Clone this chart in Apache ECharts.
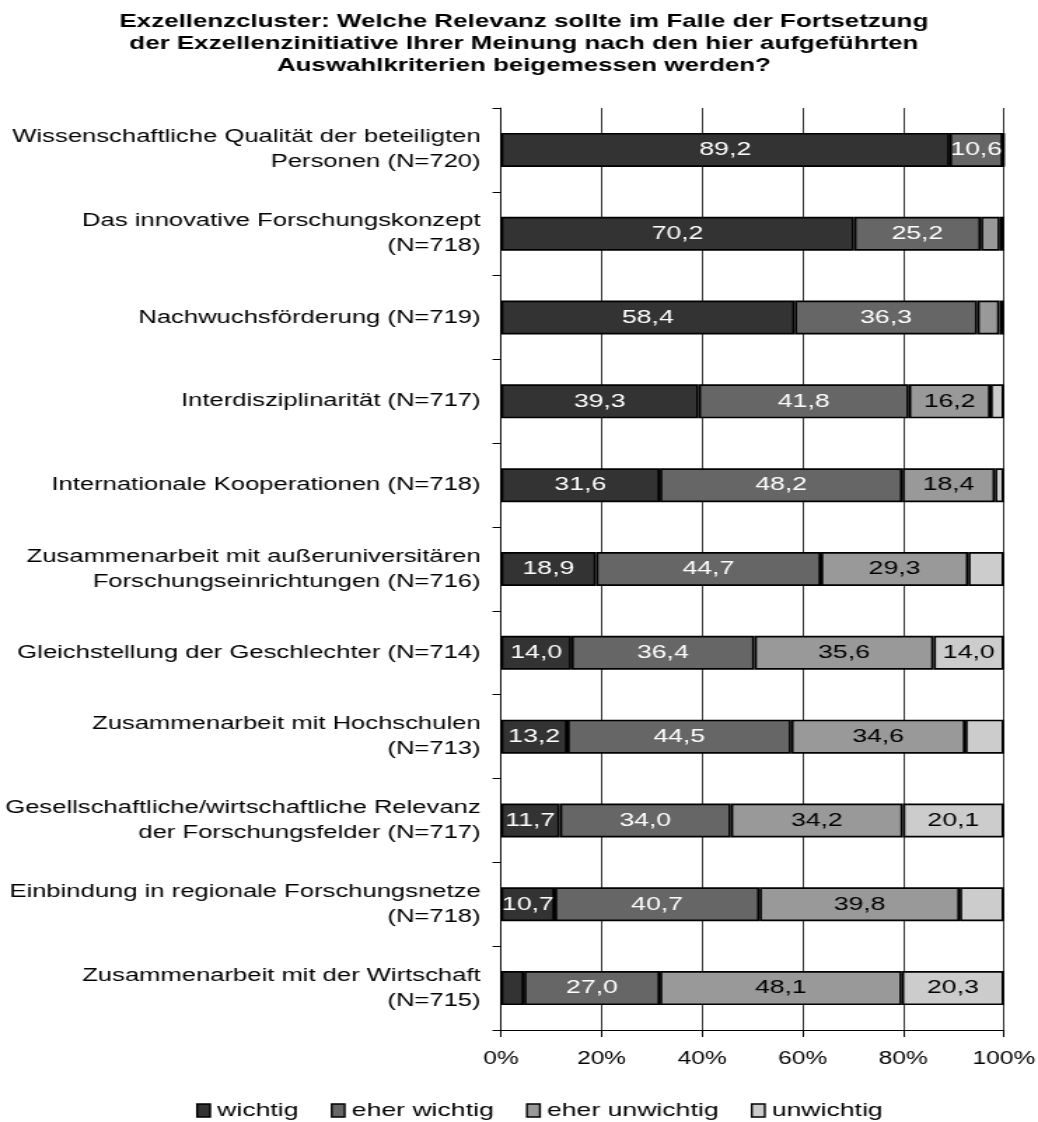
<!DOCTYPE html>
<html>
<head>
    <meta charset='utf-8'>
    <script src="https://cdn.jsdelivr.net/npm/echarts@6/dist/echarts.min.js"></script>
</head>
<body>
<style>
    html, body {
        width: 100%;
        height: 100%;
        margin: 0;
        padding: 0;
        background: #fff;
        overflow: hidden;
    }
    /* the source picture is stretched sideways, so draw narrow and widen */
    #main {
        width: 741px;
        height: 1122px;
        transform: scaleX(1.4008);
        transform-origin: 0 0;
    }
</style>
<div id="main"></div>
<script>
    var categories = [
        'Wissenschaftliche Qualität der beteiligten\nPersonen (N=720)',
        'Das innovative Forschungskonzept\n(N=718)',
        'Nachwuchsförderung (N=719)',
        'Interdisziplinarität (N=717)',
        'Internationale Kooperationen (N=718)',
        'Zusammenarbeit mit außeruniversitären\nForschungseinrichtungen (N=716)',
        'Gleichstellung der Geschlechter (N=714)',
        'Zusammenarbeit mit Hochschulen\n(N=713)',
        'Gesellschaftliche/wirtschaftliche Relevanz\nder Forschungsfelder (N=717)',
        'Einbindung in regionale Forschungsnetze\n(N=718)',
        'Zusammenarbeit mit der Wirtschaft\n(N=715)'
    ];

    var wichtig = [89.2, 70.2, 58.4, 39.3, 31.6, 18.9, 14.0, 13.2, 11.7, 10.7, 4.6];
    var eherWichtig = [10.6, 25.2, 36.3, 41.8, 48.2, 44.7, 36.4, 44.5, 34.0, 40.7, 27.0];
    var eherUnwichtig = [0.1, 3.8, 4.4, 16.2, 18.4, 29.3, 35.6, 34.6, 34.2, 39.8, 48.1];
    var unwichtig = [0.1, 0.8, 0.9, 2.7, 1.8, 7.1, 14.0, 7.7, 20.1, 8.8, 20.3];

    var seriesNames = ['wichtig', 'eher wichtig', 'eher unwichtig', 'unwichtig'];
    var seriesData = [wichtig, eherWichtig, eherUnwichtig, unwichtig];
    var fills = ['#333333', '#666666', '#999999', '#cccccc'];
    var textColors = ['#ffffff', '#ffffff', '#000000', '#000000'];
    var font = "'Liberation Sans', Arial, sans-serif";

    var chart = echarts.init(document.getElementById('main'));

    var series = [];
    for (var i = 0; i < seriesNames.length; i++) {
        series.push({
            name: seriesNames[i],
            type: 'bar',
            stack: 'total',
            barWidth: 34,
            data: seriesData[i],
            itemStyle: {
                color: fills[i],
                borderColor: '#000',
                borderWidth: 1.7
            },
            label: {
                show: true,
                position: 'inside',
                color: textColors[i],
                fontFamily: font,
                fontSize: 19,
                formatter: function (p) {
                    return p.value >= 10 ? p.value.toFixed(1).replace('.', ',') : '';
                }
            }
        });
    }

    chart.setOption({
        backgroundColor: '#fff',
        animation: false,
        title: {
            text: 'Exzellenzcluster: Welche Relevanz sollte im Falle der Fortsetzung\nder Exzellenzinitiative Ihrer Meinung nach den hier aufgeführten\nAuswahlkriterien beigemessen werden?',
            left: 369,
            textAlign: 'center',
            top: 6,
            textStyle: {
                fontFamily: font,
                fontSize: 18.5,
                fontWeight: 'bold',
                lineHeight: 22,
                color: '#000'
            }
        },
        legend: {
            top: 1096,
            left: 135,
            itemWidth: 9.3,
            itemHeight: 13,
            itemGap: 23,
            icon: 'rect',
            itemStyle: {
                borderColor: '#000',
                borderWidth: 1.4
            },
            textStyle: {
                fontFamily: font,
                fontSize: 19,
                color: '#000'
            },
            data: seriesNames
        },
        grid: {
            left: 357.6,
            right: 24.3,
            top: 108,
            bottom: 92,
            outerBoundsMode: 'none',
            containLabel: false
        },
        xAxis: {
            type: 'value',
            min: 0,
            max: 100,
            interval: 20,
            axisLine: { show: true, lineStyle: { color: '#000', width: 1 } },
            axisTick: { show: true, length: 7, lineStyle: { color: '#000' } },
            splitLine: { show: true, lineStyle: { color: '#000', width: 0.8 } },
            axisLabel: {
                formatter: '{value}%',
                fontFamily: font,
                fontSize: 17.5,
                color: '#000',
                margin: 20
            }
        },
        yAxis: {
            type: 'category',
            inverse: true,
            data: categories,
            axisLine: { show: true, lineStyle: { color: '#000', width: 0.8 } },
            axisTick: { show: true, length: 6, lineStyle: { color: '#000' } },
            axisLabel: {
                fontFamily: font,
                fontSize: 18.3,
                color: '#000',
                margin: 14.5,
                lineHeight: 25,
                align: 'right'
            }
        },
        series: series
    });
</script>
</body>
</html>
